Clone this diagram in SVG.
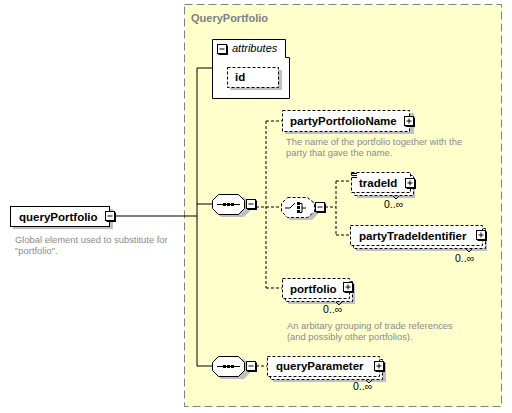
<svg xmlns="http://www.w3.org/2000/svg" width="512" height="413" viewBox="0 0 512 413">
<style>
text{font-family:"Liberation Sans",Arial,sans-serif}
.lbl{font-size:11.5px;font-weight:bold;fill:#000}
.desc{font-size:9.4px;fill:#8a8a8a}
.occ{font-size:10.5px;fill:#000}
.shadow{fill:#c0c0c0}
.box{fill:#fff;stroke:#000;stroke-width:1}
.dbox{fill:#fff;stroke:#000;stroke-width:1;stroke-dasharray:3,2}
.ln{stroke:#000;stroke-width:1;fill:none}
.dl{stroke:#000;stroke-width:1;fill:none;stroke-dasharray:3,2}
.ic{fill:#fff;stroke:#000;stroke-width:1}
.ish{fill:#000}
</style>
<defs>
<g id="minus"><rect class="ish" x="1.5" y="1.5" width="9.5" height="9.5"/><rect class="ic" x="0.5" y="0.5" width="9" height="9"/><path class="ln" d="M2.5,5H7.5"/></g>
<g id="plus"><rect class="ish" x="1.5" y="1.5" width="9.5" height="9.5"/><rect class="ic" x="0.5" y="0.5" width="9" height="9"/><path class="ln" d="M2.5,5H7.5M5,2.5V7.5"/></g>
<g id="seq"><path class="shadow" d="M9,3H32L38,9V17L32,23H9L3,17V9Z"/><path class="box" d="M6.5,0.5H26.5L32.5,6.5V14.5L26.5,20.5H6.5L0.5,14.5V6.5Z"/><path class="ln" d="M5,10.5H28"/><rect x="11" y="9" width="3" height="3" fill="#000"/><rect x="15" y="9" width="3" height="3" fill="#000"/><rect x="19" y="9" width="3" height="3" fill="#000"/></g>
</defs>
<rect x="184.5" y="4.5" width="317" height="402" fill="#ffffcc" stroke="#808080" stroke-dasharray="8,4"/>
<text x="191" y="22" style="font-size:11px;font-weight:bold;fill:#808080">QueryPortfolio</text>
<g id="connectors">
<path class="ln" d="M115,216H197M197,68V366M197,68H212M197,204H212M197,366H212"/>
<path class="dl" d="M256,207H281M266,121V288M266,121H282M266,288H282"/>
<path class="dl" d="M325,207H336M336,181V235M336,181H351M336,235H350"/>
<path class="dl" d="M256,366H267"/>
</g>
<g id="queryPortfolio">
<rect class="shadow" x="13" y="209" width="100" height="20"/>
<rect class="box" x="10.5" y="206.5" width="99" height="20"/>
<text class="lbl" x="19" y="220.5">queryPortfolio</text>
<use href="#minus" x="105" y="211"/>
<text class="desc" x="15" y="243">Global element used to substitute for</text>
<text class="desc" x="15" y="254">"portfolio".</text>
</g>
<g id="attributes">
<path class="box" d="M212.5,39.5H285.5V57.5H289.5V98.5H212.5Z"/>
<use href="#minus" x="217" y="44"/>
<text x="232" y="52" style="font-size:11px;font-style:italic;fill:#000">attributes</text>
<rect class="shadow" x="230" y="70" width="52" height="20"/>
<rect class="dbox" x="227.5" y="67.5" width="51" height="20"/>
<text class="lbl" x="235" y="81">id</text>
</g>
<g id="sequence1">
<use href="#seq" x="212" y="194"/>
<use href="#minus" x="246" y="199"/>
</g>
<g id="partyPortfolioName">
<rect class="shadow" x="285" y="113" width="129" height="21"/>
<rect class="dbox" x="282.5" y="110.5" width="127" height="21"/>
<text class="lbl" x="290" y="125">partyPortfolioName</text>
<use href="#plus" x="404" y="116"/>
<text class="desc" x="286" y="145">The name of the portfolio together with the</text>
<text class="desc" x="286" y="156">party that gave the name.</text>
</g>
<g id="choice">
<path class="shadow" d="M290,200H312L318,206V214L312,220H290L284,214V206Z"/>
<path class="dbox" d="M287.5,197.5H307.5L314.5,203.5V211.5L307.5,217.5H287.5L281.5,211.5V203.5Z"/>
<path class="ln" d="M285,208H290L295,203"/>
<rect x="297" y="202" width="3" height="3" fill="#000"/><rect x="297" y="206" width="3" height="3" fill="#000"/><rect x="297" y="210" width="3" height="3" fill="#000"/>
<path class="ln" d="M300,203.5H302V212.5H300M302,208H306"/>
<use href="#minus" x="315" y="202"/>
</g>
<g id="tradeId">
<rect class="shadow" x="357" y="178" width="58" height="20"/>
<rect class="dbox" x="354.5" y="175.5" width="59" height="20"/>
<rect class="dbox" x="351.5" y="172.5" width="59" height="20"/>
<path class="ln" d="M352,173.5H357M352,175.5H357M352,177.5H357"/>
<text class="lbl" x="359" y="187">tradeId</text>
<use href="#plus" x="405" y="178"/>
<path class="ln" d="M393,196L396,199L399,196"/>
<text class="occ" x="384" y="208">0..∞</text>
</g>
<g id="partyTradeIdentifier">
<rect class="shadow" x="356" y="231" width="131" height="20"/>
<rect class="dbox" x="353.5" y="228.5" width="132" height="20"/>
<rect class="dbox" x="350.5" y="225.5" width="132" height="20"/>
<text class="lbl" x="359" y="240">partyTradeIdentifier</text>
<use href="#plus" x="476" y="230"/>
<path class="ln" d="M466,249L469,252L472,249"/>
<text class="occ" x="455" y="262">0..∞</text>
</g>
<g id="portfolio">
<rect class="shadow" x="288" y="284" width="67" height="20"/>
<rect class="dbox" x="285.5" y="281.5" width="67" height="20"/>
<rect class="dbox" x="282.5" y="278.5" width="67" height="20"/>
<text class="lbl" x="290" y="293">portfolio</text>
<use href="#plus" x="343" y="282"/>
<path class="ln" d="M336,302L339,305L342,302"/>
<text class="occ" x="323" y="313">0..∞</text>
<text class="desc" x="287" y="329">An arbitary grouping of trade references</text>
<text class="desc" x="287" y="340">(and possibly other portfolios).</text>
</g>
<g id="sequence2">
<use href="#seq" x="212" y="356"/>
<use href="#minus" x="246" y="361"/>
</g>
<g id="queryParameter">
<rect class="shadow" x="273" y="362" width="113" height="20"/>
<rect class="dbox" x="270.5" y="359.5" width="112" height="20"/>
<rect class="dbox" x="267.5" y="356.5" width="112" height="20"/>
<text class="lbl" x="276" y="370">queryParameter</text>
<use href="#plus" x="374" y="361"/>
<path class="ln" d="M366,380L369,383L372,380"/>
<text class="occ" x="353" y="390">0..∞</text>
</g>
</svg>
